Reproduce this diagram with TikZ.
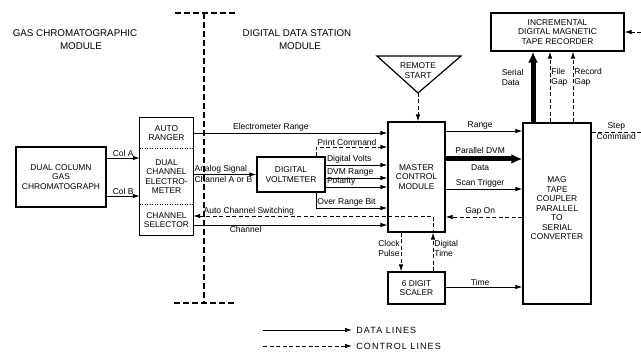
\documentclass[tikz,border=0pt]{standalone}
\usepackage{fontspec}
\setmainfont{Liberation Sans}
\newfontfamily\lgfont[LetterSpace=12]{Liberation Sans}
\usetikzlibrary{arrows.meta}
\newcommand\bxf{\fontsize{8.4}{9.5}\selectfont}
\newcommand\lbf{\fontsize{8.5}{10}\selectfont}
\newcommand\ttf{\fontsize{9.8}{13}\selectfont}
\begin{document}
\begin{tikzpicture}[x=1pt,y=-1pt,
  >={Latex[length=7pt,width=4.5pt]},
  box/.style={draw,line width=1.2pt,inner sep=0pt,align=center,font=\bxf},
  inbox/.style={inner sep=0pt,align=center,font=\bxf},
  txt/.style={inner sep=0pt,align=center,font=\bxf},
  lab/.style={inner sep=1pt,font=\lbf},
  dl/.style={line width=0.8pt,->},
  cl/.style={line width=0.8pt,->,dash pattern=on 4pt off 2.5pt},
  bus/.style={line width=5pt,-{Latex[length=11pt,width=10pt]}},
  bound/.style={line width=1.4pt,dash pattern=on 6pt off 3pt},
  ttl/.style={inner sep=0pt,font=\ttf}]
\useasboundingbox (0,0) rectangle (641,352);

% titles
\node[ttl] (t1) at (75,33) {GAS CHROMATOGRAPHIC};
\node[ttl] (t1b) at (81,46) {MODULE};
\node[ttl] (t2) at (297,33) {DIGITAL DATA STATION};
\node[ttl] (t2b) at (300,46) {MODULE};

% module boundary
\coordinate (bt) at (204,13);
\coordinate (bb) at (204,303);
\coordinate (btl) at (175,13);
\coordinate (btr) at (237,13);
\coordinate (bbl) at (174,303);
\coordinate (bbr) at (236,303);
\draw[bound] (bt) -- (bb);
\draw[bound] (btl) -- (btr);
\draw[bound] (bbl) -- (bbr);

% boxes
\node[box,minimum width=90,minimum height=60] (gc) at (61,177) {DUAL COLUMN\\GAS\\CHROMATOGRAPH};
\node[inbox,minimum width=53,minimum height=30] (ranger) at (166.5,133) {AUTO\\RANGER};
\node[inbox,minimum width=53,minimum height=57] (electro) at (166.5,176.5) {DUAL\\CHANNEL\\ELECTRO-\\METER};
\node[inbox,minimum width=53,minimum height=30] (selector) at (166.5,220) {CHANNEL\\SELECTOR};
\draw[line width=1.2pt] (ranger.north west) rectangle (selector.south east);
\draw[line width=0.7pt,dash pattern=on 1pt off 1.5pt] (ranger.south west) -- (ranger.south east);
\draw[line width=0.7pt,dash pattern=on 1pt off 1.5pt] (selector.north west) -- (selector.north east);

\node[box,minimum width=68,minimum height=35] (dvm) at (291,174.5) {DIGITAL\\VOLTMETER};
\node[box,minimum width=57,minimum height=110] (master) at (416.5,177) {MASTER\\CONTROL\\MODULE};
\node[box,minimum width=57,minimum height=32] (scaler) at (416.5,288) {6 DIGIT\\SCALER};
\node[box,minimum width=68,minimum height=181] (coupler) at (557,213.5) {};
\node[txt] (couplertxt) at (557,208.5) {MAG\\TAPE\\COUPLER\\PARALLEL\\TO\\SERIAL\\CONVERTER};
\node[box,minimum width=133,minimum height=38] (recorder) at (557.5,32) {INCREMENTAL\\DIGITAL MAGNETIC\\TAPE RECORDER};

% remote start triangle
\coordinate (rsL) at (377,56);
\coordinate (rsR) at (461,56);
\coordinate (rsA) at (418,93);
\draw[line width=1.2pt,line join=miter] (rsL) -- (rsR) -- (rsA) -- cycle;
\node[txt] (remote) at (418,70.5) {REMOTE\\START};

% GC to electrometer
\draw[dl] (gc.east |- 0,158) -- node[lab,above]{Col A} (electro.west |- 0,158);
\draw[dl] (gc.east |- 0,196) -- node[lab,above]{Col B} (electro.west |- 0,196);

% to master control
\draw[dl] (ranger.east |- 0,133) -- node[lab,above,pos=0.4]{Electrometer Range} (master.west |- 0,133);
\draw[dl] (electro.east |- dvm.west) -- node[lab,anchor=south west,pos=0]{Analog Signal} node[lab,anchor=north west,pos=0]{Channel A or B} (dvm.west);
\draw[cl] (dvm.north -| 316,0) -- (316,147) -- node[lab,anchor=south west,pos=0]{Print Command} (master.west |- 0,147);
\draw[dl] (dvm.east |- 0,165) -- node[lab,anchor=south west,pos=0]{Digital Volts} (master.west |- 0,165);
\draw[dl] (dvm.east |- 0,178) -- node[lab,anchor=south west,pos=0]{DVM Range} (master.west |- 0,178);
\draw[dl] (dvm.east |- 0,187) -- node[lab,anchor=south west,pos=0]{Polarity} (master.west |- 0,187);
\draw[dl] (dvm.south -| 316,0) -- (316,208) -- node[lab,anchor=south west,pos=0]{Over Range Bit} (master.west |- 0,208);
\draw[cl,<-] (selector.east |- 0,216) -- node[lab,anchor=south west,pos=0.04,inner sep=0.5pt]{Auto Channel Switching} (433,216) -- (master.south -| 433,0);
\draw[dl] (selector.east |- 0,225) -- node[lab,below,pos=0.27,inner sep=0.5pt]{Channel} (master.west |- 0,225);
\draw[cl] (rsA) -- (rsA |- master.north);

% master to coupler
\draw[dl] (master.east |- 0,131) -- node[lab,above,pos=0.45]{Range} (coupler.west |- 0,131);
\draw[bus] (master.east |- 0,159) -- node[lab,above=2pt,pos=0.45]{Parallel DVM} node[lab,below=2pt,pos=0.45]{Data} (coupler.west |- 0,159);
\draw[dl] (master.east |- 0,189) -- node[lab,above,pos=0.45]{Scan Trigger} (coupler.west |- 0,189);
\draw[cl] (coupler.west |- 0,217) -- node[lab,above,pos=0.55]{Gap On} (master.east |- 0,217);
\draw[dl] (scaler.east |- 0,287) -- node[lab,above,pos=0.45]{Time} (coupler.west |- 0,287);

% master <-> scaler
\draw[cl] (master.south -| 401,0) -- node[lab,left,align=center,pos=0.4]{Clock\\Pulse} (scaler.north -| 401,0);
\draw[cl] (scaler.north -| 433,0) -- node[lab,right,align=left,pos=0.6]{Digital\\Time} (master.south -| 433,0);

% coupler to recorder
\draw[bus] (coupler.north -| 533,0) -- node[lab,left=6pt,align=left,pos=0.64]{Serial\\Data} (recorder.south -| 533,0);
\draw[cl] (coupler.north -| 550,0) -- node[lab,right,align=left,pos=0.64]{File\\Gap} (recorder.south -| 550,0);
\draw[cl] (coupler.north -| 573,0) -- node[lab,right,align=left,pos=0.64]{Record\\Gap} (recorder.south -| 573,0);

% step command
\coordinate (stepEnd) at (641,132);
\draw[cl,-] (coupler.east |- stepEnd) -- node[lab,above]{Step} node[lab,below]{Command} (stepEnd);
\coordinate (recIn) at (641,32);
\draw[cl] (recIn) -- (recorder.east |- recIn);

% legend
\coordinate (lg1a) at (263,330);
\coordinate (lg1b) at (352,330);
\coordinate (lg2a) at (263,346);
\coordinate (lg2b) at (352,346);
\draw[dl] (lg1a) -- (lg1b) node[right=4pt,inner sep=0pt,font=\lgfont\fontsize{9}{10}\selectfont] (lgd) {DATA LINES};
\draw[cl] (lg2a) -- (lg2b) node[right=4pt,inner sep=0pt,font=\lgfont\fontsize{9}{10}\selectfont] (lgc) {CONTROL LINES};
\end{tikzpicture}
\end{document}
